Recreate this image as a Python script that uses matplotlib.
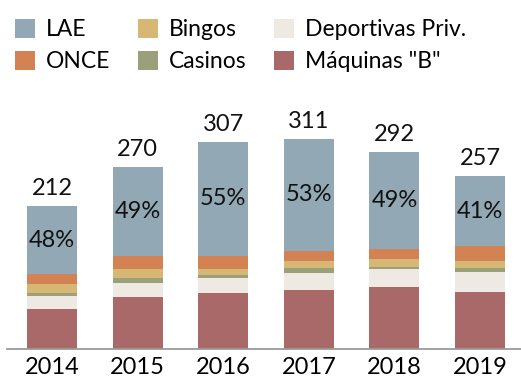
import matplotlib
matplotlib.use("Agg")
import matplotlib.pyplot as plt
import numpy as np

plt.rcParams["font.family"] = ["Lato", "DejaVu Sans"]

years = ["2014", "2015", "2016", "2017", "2018", "2019"]

# Gaming revenue split by operator (stacked bottom to top)
maquinas_b = [59, 77, 83, 88, 92, 84]
deportivas = [20, 21, 22, 25, 27, 30]
casinos = [4, 7, 4, 7, 2, 6]
bingos = [13, 13, 10, 11, 12, 10]
once = [15, 20, 19, 15, 16, 22]
lae = [101, 132, 169, 165, 143, 105]

series = [
    ("Máquinas \"B\"", maquinas_b, "#A86968"),
    ("Deportivas Priv.", deportivas, "#EEEAE3"),
    ("Casinos", casinos, "#9BA07A"),
    ("Bingos", bingos, "#D6B874"),
    ("ONCE", once, "#D38353"),
    ("LAE", lae, "#93A8B5"),
]

fig = plt.figure(figsize=(5.21, 3.78), dpi=100)
ax = fig.add_axes([7 / 521, 29 / 378, 514 / 521, 248 / 378])

x = np.arange(len(years))
bottom = np.zeros(len(years))
handles = {}
for name, vals, color in series:
    vals = np.array(vals, dtype=float)
    h = ax.bar(x, vals, width=0.585, bottom=bottom, color=color, linewidth=0)
    handles[name] = h
    bottom += vals

totals = bottom
lae_arr = np.array(lae, dtype=float)
for i in range(len(years)):
    ax.annotate(f"{int(totals[i])}", (x[i], totals[i]), xytext=(0, 5),
                textcoords="offset points", ha="center", va="bottom",
                fontsize=17, color="#111111")
    share = lae_arr[i] / totals[i] * 100
    ax.text(x[i], totals[i] - lae_arr[i] / 2, f"{share:.0f}%",
            ha="center", va="center", fontsize=17, color="#111111")

ax.set_xlim(-0.526, 5.479)
ax.set_ylim(0, 367.7)
ax.set_xticks(x)
ax.set_xticklabels(years, fontsize=17)
ax.tick_params(axis="x", length=0, pad=6)
ax.set_yticks([])
for side in ("top", "right", "left"):
    ax.spines[side].set_visible(False)
ax.spines["bottom"].set_color("#9a9a9a")
ax.spines["bottom"].set_linewidth(1.3)

order = ["LAE", "ONCE", "Bingos", "Casinos", "Deportivas Priv.", "Máquinas \"B\""]
fig.legend([handles[n] for n in order], order, ncol=3, loc="upper left",
           bbox_to_anchor=(0.012, 0.974), frameon=False, fontsize=16.5,
           handlelength=0.85, handleheight=0.9, handletextpad=0.5,
           columnspacing=1.2, labelspacing=0.45, borderaxespad=0)

fig.savefig("out.png", dpi=100)
